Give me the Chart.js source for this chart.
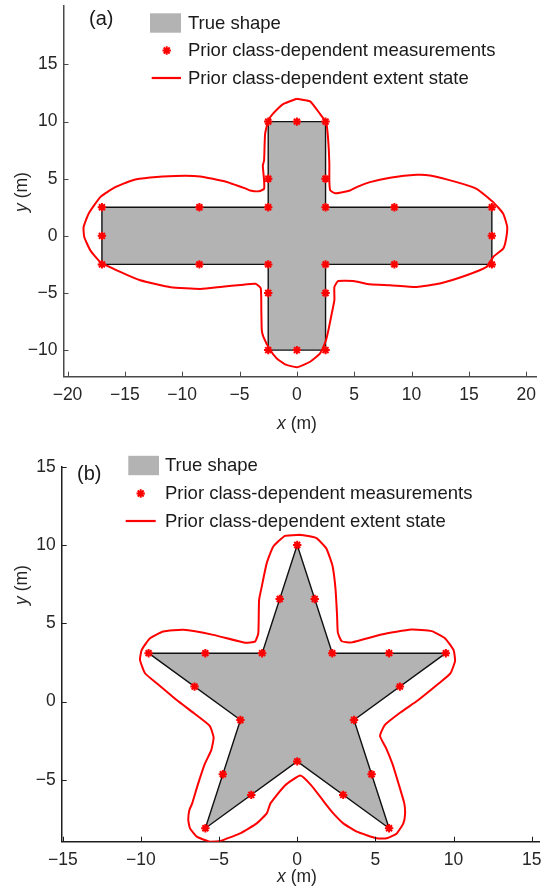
<!DOCTYPE html>
<html><head><meta charset="utf-8">
<script src="https://cdn.jsdelivr.net/npm/chart.js@4.4.0/dist/chart.umd.min.js"></script>
<style>
html,body{margin:0;padding:0;background:#fff;}
#wrap{position:relative;width:553px;height:888px;overflow:hidden;}
canvas{position:absolute;left:0;}
#ca{top:0;} #cb{top:444px;}
</style></head><body>
<div id="wrap"><canvas id="ca" width="553" height="444"></canvas><canvas id="cb" width="553" height="444"></canvas></div>
<script>
// ---------- (a) cross ----------
const crossShape = [[-2.5,10],[2.5,10],[2.5,2.5],[17,2.5],[17,-2.5],[2.5,-2.5],[2.5,-10],[-2.5,-10],[-2.5,-2.5],[-17,-2.5],[-17,2.5],[-2.5,2.5],[-2.5,10]];
const crossMeas = [[-2.5,10],[0,10],[2.5,10],[2.5,5],[2.5,2.5],[8.5,2.5],[17,2.5],[17,0],[17,-2.5],[8.5,-2.5],[2.5,-2.5],[2.5,-5],[2.5,-10],[0,-10],[-2.5,-10],[-2.5,-5],[-2.5,-2.5],[-8.5,-2.5],[-17,-2.5],[-17,0],[-17,2.5],[-8.5,2.5],[-2.5,2.5],[-2.5,5]];
const crossExtent = [[0,12.0],[1.15,11.77],[2.02,10.67],[2.54,9.94],[2.66,9.2],[2.78,7.6],[2.83,6.3],[2.83,4.85],[2.9,4.0],[3.33,3.72],[4.63,3.97],[5.21,4.26],[6.37,4.7],[8.12,5.08],[10.44,5.34],[11.6,5.28],[13.93,4.7],[15.67,4.12],[17.12,2.95],[17.99,1.94],[18.34,0.77],[18.22,-0.39],[17.99,-1.12],[17.12,-1.85],[16.54,-2.72],[14.8,-3.45],[12.47,-4.17],[10.44,-4.47],[8.12,-4.32],[6.38,-4.24],[4.92,-3.95],[3.6,-3.95],[3.27,-4.47],[3.27,-5.63],[3.0,-7.0],[2.75,-8.25],[2.54,-9.13],[2.02,-10.29],[1.15,-11.02],[0,-11.5],[-1.03,-11.25],[-1.75,-10.73],[-2.33,-10.0],[-2.92,-8.84],[-3.06,-8.25],[-3.1,-6.5],[-3.15,-4.6],[-3.6,-4.2],[-4.9,-4.3],[-6.5,-4.45],[-8.4,-4.65],[-11.0,-4.5],[-13.66,-3.89],[-15.4,-3.16],[-17.14,-2.29],[-18.01,-1.27],[-18.54,-0.1],[-18.6,0.77],[-18.16,1.94],[-17.14,3.39],[-15.84,4.26],[-14.38,4.85],[-12.8,5.1],[-10.6,5.24],[-8.43,5.2],[-6.25,4.76],[-4.5,4.15],[-4.08,3.97],[-3.3,3.9],[-2.86,4.12],[-2.86,4.85],[-2.97,6.16],[-2.86,6.6],[-2.77,8.93],[-2.48,10.1],[-2.1,10.67],[-1.17,11.55],[0,12.0]];
const xTicksA = [-20,-15,-10,-5,0,5,10,15,20];
const yTicksA = [-10,-5,0,5,10,15];

// ---------- (b) star ----------
const starShape = [[0,10],[2.245,3.09],[9.51,3.09],[3.633,-1.18],[5.878,-8.09],[0,-3.82],[-5.878,-8.09],[-3.633,-1.18],[-9.51,3.09],[-2.245,3.09],[0,10]];
const starMeas = [[0,10],[1.12,6.55],[2.245,3.09],[5.88,3.09],[9.51,3.09],[6.57,0.955],[3.633,-1.18],[4.76,-4.64],[5.878,-8.09],[2.94,-5.96],[0,-3.82],[-2.94,-5.96],[-5.878,-8.09],[-4.76,-4.64],[-3.633,-1.18],[-6.57,0.955],[-9.51,3.09],[-5.88,3.09],[-2.245,3.09],[-1.12,6.55]];
const starExtent = [[0.18,10.65],[1.2,10.45],[1.85,9.8],[2.25,8.7],[2.45,7.2],[2.55,5.5],[2.6,4.4],[2.85,3.85],[3.5,3.78],[5.4,4.28],[7.3,4.6],[8.6,4.5],[9.45,4.05],[10.0,3.3],[10.1,2.6],[9.8,1.8],[9.05,1.15],[7.75,0.1],[6.6,-0.7],[5.6,-1.5],[5.3,-2.2],[5.7,-3.0],[6.1,-4.0],[6.5,-5.3],[6.85,-6.5],[6.9,-7.2],[6.79,-7.78],[6.37,-8.42],[5.73,-8.73],[5.09,-8.73],[3.81,-8.31],[2.95,-7.78],[2.31,-7.14],[1.75,-6.45],[0.9,-5.35],[0.2,-4.72],[-0.8,-5.37],[-1.71,-6.5],[-1.95,-7.14],[-2.59,-7.78],[-3.66,-8.42],[-4.94,-8.91],[-5.58,-8.95],[-6.43,-8.63],[-6.86,-8.1],[-6.97,-7.56],[-6.9,-6.93],[-6.72,-6.5],[-6.38,-5.37],[-5.92,-4.0],[-5.5,-3.1],[-5.35,-2.3],[-5.6,-1.55],[-6.6,-0.75],[-7.71,0.1],[-8.99,1.17],[-9.74,1.81],[-10.06,2.66],[-9.95,3.3],[-9.42,4.04],[-8.57,4.47],[-7.29,4.58],[-5.37,4.26],[-3.34,3.76],[-2.7,3.83],[-2.49,4.36],[-2.44,6.49],[-2.27,7.34],[-1.95,8.84],[-1.53,9.9],[-0.78,10.58],[0.18,10.65]];
const xTicksB = [-15,-10,-5,0,5,10,15];
const yTicksB = [-5,0,5,10,15];

const legendLabels = ['True shape','Prior class-dependent measurements','Prior class-dependent extent state'];

const FONT = "'Liberation Sans', Arial, Helvetica, sans-serif";
const toXY = a => a.map(p => ({x:p[0], y:p[1]}));
const fmt = v => String(v).replace('-', '\u2212');

const deco = {
  id: 'deco',
  afterDraw(chart, args, o) {
    const ctx = chart.ctx, xs = chart.scales.x, ys = chart.scales.y, a = chart.chartArea;
    ctx.save();
    ctx.strokeStyle = o.axisColor; ctx.lineWidth = 1;
    xs.ticks.forEach(t => { const p = Math.round(xs.getPixelForValue(t.value)) + 0.5;
      ctx.beginPath(); ctx.moveTo(p, a.bottom); ctx.lineTo(p, a.bottom - 5); ctx.stroke(); });
    ys.ticks.forEach(t => { const p = Math.round(ys.getPixelForValue(t.value)) + 0.5;
      ctx.beginPath(); ctx.moveTo(a.left, p); ctx.lineTo(a.left + 5, p); ctx.stroke(); });
    // axis titles (italic variable + regular unit)
    ctx.fillStyle = '#262626'; ctx.textBaseline = 'middle'; ctx.textAlign = 'left';
    const drawTitle = (v, cx, cy, rot) => {
      ctx.save(); ctx.translate(cx, cy); if (rot) ctx.rotate(-Math.PI/2);
      ctx.font = 'italic 17.5px ' + FONT; const w1 = ctx.measureText(v).width;
      ctx.font = '17.5px ' + FONT; const w2 = ctx.measureText(' (m)').width;
      const x0 = -(w1 + w2)/2;
      ctx.font = 'italic 17.5px ' + FONT; ctx.fillText(v, x0, 0);
      ctx.font = '17.5px ' + FONT; ctx.fillText(' (m)', x0 + w1, 0);
      ctx.restore();
    };
    drawTitle('x', o.xTitle[0], o.xTitle[1], false);
    drawTitle('y', o.yTitle[0], o.yTitle[1], true);
    // panel label
    ctx.font = '20px ' + FONT; ctx.fillStyle = '#1a1a1a';
    ctx.fillText(o.panel, o.panelPos[0], o.panelPos[1]);
    // legend
    const L = o.legend;
    ctx.font = '18.5px ' + FONT;
    ctx.fillStyle = '#b3b3b3';
    ctx.fillRect(L.rect[0], L.rows[0] - 9.7, L.rect[1] - L.rect[0], 19.4);
    ctx.strokeStyle = '#ff0000'; ctx.fillStyle = '#ff0000'; ctx.lineWidth = 2;
    Chart.helpers.drawPoint(ctx, {pointStyle:'star', radius:4.2, rotation:0, borderWidth:2}, L.marker, L.rows[1]);
    ctx.lineWidth = 2.2;
    ctx.beginPath(); ctx.moveTo(L.line[0], L.rows[2]); ctx.lineTo(L.line[1], L.rows[2]); ctx.stroke();
    ctx.fillStyle = '#1a1a1a';
    legendLabels.forEach((s, i) => ctx.fillText(s, L.text, L.rows[i] + 0.5));
    ctx.restore();
  }
};

function makeChart(id, cfg) {
  const A = cfg.area, H = 444;
  return new Chart(document.getElementById(id), {
    type: 'scatter',
    data: { datasets: [
      { data: toXY(cfg.meas), showLine:false, pointStyle:'star', pointRadius:4.2, pointBorderWidth:2,
        borderColor:'#ff0000', backgroundColor:'#ff0000', order:1 },
      { data: toXY(cfg.extent), showLine:true, pointRadius:0, borderColor:'#ff0000', borderWidth:2,
        tension:0.15, fill:false, order:2 },
      { data: toXY(cfg.shape), showLine:true, pointRadius:0, borderColor:'#111111', borderWidth:1.4,
        backgroundColor:'#b3b3b3', fill:'shape', tension:0, order:3 }
    ]},
    options: {
      responsive:false, animation:false, events:[],
      layout: { padding: { left:0, top:A.top, right:553 - A.right, bottom:0 } },
      plugins: { legend:{display:false}, tooltip:{enabled:false}, deco: cfg.deco },
      scales: {
        x: { type:'linear', position:'bottom', min:cfg.xr[0], max:cfg.xr[1],
          afterFit: s => { s.height = H - A.bottom; s.paddingLeft = 0; s.paddingRight = 0; },
          afterBuildTicks: s => { s.ticks = cfg.xTicks.map(v => ({value:v})); },
          grid:{display:false, drawTicks:false}, border:{display:true, color:cfg.axisColor, width:1.5},
          ticks:{ color:'#262626', font:{family:FONT, size:17.5}, padding:cfg.xPad, callback:fmt, maxRotation:0, autoSkip:false } },
        y: { type:'linear', position:'left', min:cfg.yr[0], max:cfg.yr[1],
          afterFit: s => { s.width = A.left; s.paddingTop = 0; s.paddingBottom = 0; },
          afterBuildTicks: s => { s.ticks = cfg.yTicks.map(v => ({value:v})); },
          grid:{display:false, drawTicks:false}, border:{display:true, color:cfg.axisColor, width:1.5},
          ticks:{ color:'#262626', font:{family:FONT, size:17.5}, padding:6, callback:fmt, autoSkip:false } }
      }
    },
    plugins: [deco]
  });
}

makeChart('ca', {
  shape: crossShape, meas: crossMeas, extent: crossExtent, xTicks: xTicksA, yTicks: yTicksA,
  xr: [-20.35, 20.85], yr: [-12.33, 20.1], area: {left:63.5, top:5, right:536, bottom:376.7},
  axisColor:'#4a4a4a', xPad: 8,
  deco: { axisColor:'#4a4a4a', xTitle:[297, 424], yTitle:[22, 192], panel:'(a)', panelPos:[89, 19],
    legend: { rect:[150,181], marker:166.7, line:[151.7,181], text:188, rows:[23, 50.5, 78] } }
});
makeChart('cb', {
  shape: starShape, meas: starMeas, extent: starExtent, xTicks: xTicksB, yTicks: yTicksB,
  xr: [-15.07, 15.49], yr: [-8.95, 15], area: {left:61.7, top:22.7, right:539.3, bottom:397.7},
  axisColor:'#1e1e1e', xPad: 8,
  deco: { axisColor:'#1e1e1e', xTitle:[297, 433], yTitle:[22, 141], panel:'(b)', panelPos:[77, 30],
    legend: { rect:[128.3,159], marker:140.7, line:[125.7,155.7], text:165, rows:[21.5, 49.5, 77] } }
});
</script>
</body></html>
